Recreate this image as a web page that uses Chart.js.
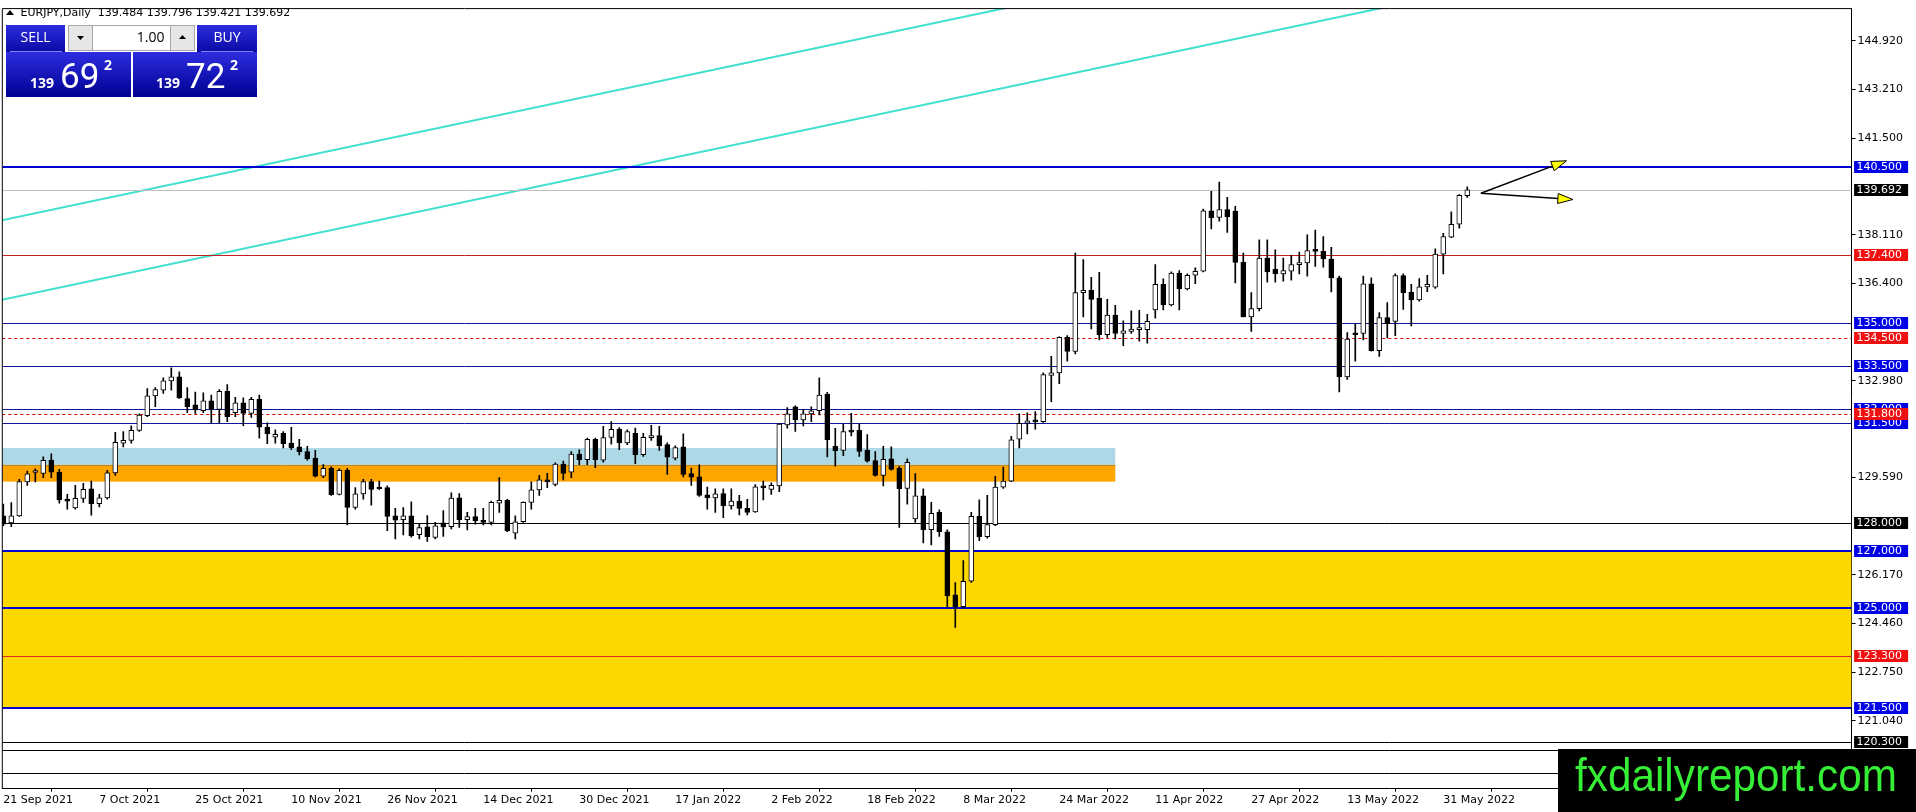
<!DOCTYPE html>
<html>
<head>
<meta charset="utf-8">
<title>EURJPY Daily</title>
<script src="https://cdn.jsdelivr.net/npm/chart.js@4.4.0/dist/chart.umd.min.js"></script>
<style>
  html, body { margin: 0; padding: 0; background: #fff; overflow: hidden; }
  canvas { display: block; }
</style>
</head>
<body>
<canvas id="priceChart" width="1916" height="812"></canvas>
<script>
// Chart data
const symbolTitle = 'EURJPY,Daily  139.484 139.796 139.421 139.692';

const opens = [
  128.24, 127.99, 128.24, 129.43, 129.76, 129.73, 130.20, 129.78, 128.82, 128.52,
  128.85, 129.19, 128.67, 128.87, 129.75, 130.79, 130.89, 131.24, 131.76, 132.45,
  132.65, 132.98, 133.12, 132.36, 132.14, 131.93, 132.28, 131.98, 132.61, 131.86,
  132.21, 131.84, 132.33, 131.35, 131.00, 131.14, 130.79, 130.66, 130.50, 130.27,
  129.63, 129.91, 128.99, 129.84, 128.53, 129.01, 129.44, 129.20, 129.23, 128.24,
  128.10, 128.24, 127.58, 127.85, 127.48, 127.99, 127.86, 128.87, 128.10, 128.21,
  128.08, 128.01, 128.68, 128.78, 127.63, 128.03, 128.71, 129.15, 129.50, 129.34,
  130.06, 129.77, 130.41, 130.21, 130.93, 130.19, 130.99, 131.28, 130.80, 131.14,
  130.39, 130.98, 131.06, 130.74, 130.26, 130.66, 129.72, 129.61, 128.98, 128.87,
  129.02, 128.59, 128.76, 128.50, 128.38, 129.26, 129.17, 129.29, 131.43, 132.07,
  131.61, 131.82, 131.93, 132.51, 130.68, 130.54, 131.24, 131.24, 130.54, 130.18,
  129.66, 130.24, 129.92, 129.20, 128.13, 128.94, 127.75, 128.36, 127.68, 125.46,
  125.05, 125.94, 128.22, 127.51, 127.93, 129.25, 129.46, 130.93, 131.49, 131.58,
  131.55, 133.17, 133.26, 134.51, 134.01, 136.08, 136.16, 135.88, 134.60, 135.29,
  134.65, 134.72, 134.78, 134.78, 135.47, 136.37, 135.65, 136.77, 136.21, 136.69,
  136.83, 138.95, 138.72, 139.00, 138.94, 137.15, 135.23, 135.52, 137.29, 136.91,
  136.74, 136.83, 137.06, 137.12, 137.56, 137.53, 137.26, 136.60, 133.12, 134.64,
  134.65, 136.39, 134.04, 135.20, 135.07, 136.68, 136.10, 135.82, 136.28, 136.27,
  137.43, 138.03, 138.48, 139.484
];
const highs = [
  128.65, 128.70, 129.52, 129.81, 129.89, 130.31, 130.42, 129.87, 128.99, 129.31,
  129.38, 129.46, 128.99, 129.84, 131.17, 131.20, 131.40, 131.82, 132.71, 132.74,
  133.09, 133.44, 133.30, 132.74, 132.59, 132.56, 132.48, 132.67, 132.85, 132.40,
  132.38, 132.40, 132.48, 131.51, 131.26, 131.20, 131.35, 130.93, 130.68, 130.54,
  130.04, 129.96, 129.89, 129.91, 129.23, 129.52, 129.52, 129.46, 129.29, 128.50,
  128.53, 128.73, 127.95, 128.25, 128.01, 128.42, 129.05, 129.02, 128.36, 128.50,
  128.50, 128.76, 129.58, 128.82, 128.24, 128.73, 129.43, 129.66, 129.73, 130.10,
  130.16, 130.50, 130.56, 130.97, 130.97, 131.38, 131.55, 131.34, 131.26, 131.32,
  131.14, 131.42, 131.38, 130.80, 130.70, 131.12, 129.92, 130.03, 129.25, 129.19,
  129.19, 129.19, 128.96, 128.82, 129.34, 129.46, 129.40, 131.49, 132.04, 132.10,
  131.98, 132.07, 133.09, 132.58, 131.31, 131.46, 131.84, 131.47, 131.09, 130.50,
  130.68, 130.66, 129.98, 130.24, 129.72, 129.19, 128.71, 128.45, 127.75, 125.89,
  126.67, 128.36, 128.80, 128.96, 129.63, 129.95, 131.03, 131.82, 131.86, 131.90,
  133.26, 133.84, 134.53, 134.57, 137.47, 137.24, 136.62, 136.79, 135.84, 135.63,
  135.09, 135.44, 135.46, 135.32, 137.06, 136.56, 136.81, 136.85, 136.74, 136.95,
  139.01, 139.64, 139.96, 139.43, 139.11, 137.47, 136.08, 137.93, 137.93, 137.58,
  137.29, 137.39, 137.50, 138.11, 138.28, 138.05, 137.67, 136.66, 134.68, 134.97,
  136.66, 136.60, 135.38, 135.73, 136.74, 136.74, 136.37, 136.57, 136.69, 137.62,
  138.16, 138.92, 139.52, 139.796
];
const lows = [
  127.89, 127.86, 128.22, 129.31, 129.43, 129.58, 129.58, 128.68, 128.47, 128.47,
  128.71, 128.26, 128.55, 128.82, 129.66, 130.66, 130.79, 131.20, 131.72, 132.07,
  132.54, 132.65, 132.36, 131.86, 131.84, 131.86, 131.49, 131.49, 131.55, 131.72,
  131.41, 131.70, 130.97, 130.77, 130.79, 130.62, 130.56, 130.38, 130.19, 129.61,
  129.58, 128.96, 128.97, 127.92, 128.47, 128.82, 128.61, 129.17, 127.72, 127.43,
  127.57, 127.49, 127.43, 127.34, 127.43, 127.52, 127.78, 127.83, 127.74, 127.95,
  127.92, 127.92, 128.36, 127.68, 127.43, 128.01, 128.47, 128.96, 129.23, 129.29,
  129.50, 129.58, 130.04, 130.04, 129.93, 130.12, 130.76, 130.56, 130.74, 130.07,
  130.33, 130.89, 130.54, 129.69, 130.20, 129.61, 129.31, 128.92, 128.47, 128.36,
  128.17, 128.47, 128.27, 128.27, 128.36, 128.80, 128.99, 129.09, 131.32, 131.20,
  131.40, 131.55, 131.78, 130.31, 129.98, 130.35, 131.05, 130.33, 130.12, 129.63,
  129.29, 129.84, 127.83, 128.65, 128.01, 127.29, 127.22, 127.52, 125.02, 124.32,
  124.99, 125.90, 127.37, 127.45, 127.89, 129.20, 129.44, 130.62, 131.12, 131.28,
  131.52, 132.25, 132.88, 133.67, 133.93, 135.23, 134.80, 134.42, 134.51, 134.45,
  134.22, 134.65, 134.37, 134.30, 135.18, 135.47, 135.61, 135.47, 136.17, 136.39,
  136.81, 138.32, 138.59, 138.19, 136.42, 135.23, 134.72, 135.44, 136.45, 136.45,
  136.48, 136.52, 136.74, 136.66, 137.00, 136.97, 136.10, 132.59, 133.03, 133.67,
  134.42, 134.02, 133.84, 134.49, 134.57, 135.49, 134.91, 135.78, 136.11, 136.23,
  136.74, 138.01, 138.34, 139.421
];
const closes = [
  127.95, 128.24, 129.44, 129.71, 129.78, 130.19, 129.77, 128.80, 128.75, 128.85,
  129.17, 128.67, 128.87, 129.75, 130.82, 130.89, 131.24, 131.78, 132.45, 132.67,
  132.98, 133.12, 132.38, 132.07, 131.96, 132.28, 131.98, 132.61, 131.72, 132.21,
  131.84, 132.33, 131.35, 131.12, 131.10, 130.77, 130.63, 130.49, 130.24, 129.63,
  129.91, 128.98, 129.84, 128.53, 129.01, 129.44, 129.17, 129.18, 128.22, 128.09,
  128.24, 127.54, 127.83, 127.51, 127.89, 127.85, 128.86, 128.10, 128.21, 128.06,
  128.01, 128.71, 128.78, 127.71, 128.03, 128.71, 129.15, 129.50, 129.43, 130.06,
  129.73, 130.41, 130.21, 130.93, 130.21, 130.99, 131.28, 130.80, 131.20, 130.39,
  131.00, 131.06, 130.70, 130.30, 130.64, 129.69, 129.60, 128.96, 128.87, 129.01,
  128.59, 128.76, 128.50, 128.36, 129.26, 129.22, 129.31, 131.46, 131.82, 131.61,
  131.82, 131.93, 132.48, 130.91, 130.53, 131.20, 131.18, 130.50, 130.16, 129.66,
  130.22, 129.87, 129.19, 130.12, 128.94, 127.74, 128.33, 127.68, 125.43, 125.05,
  125.94, 128.22, 127.51, 127.93, 129.25, 129.46, 130.91, 131.49, 131.58, 131.54,
  133.20, 133.26, 134.51, 134.01, 136.08, 136.16, 135.84, 134.60, 135.29, 134.65,
  134.74, 134.80, 134.80, 135.07, 136.37, 135.65, 136.77, 136.21, 136.69, 136.83,
  138.95, 138.71, 139.00, 138.74, 137.14, 135.23, 135.52, 137.29, 136.81, 136.74,
  136.85, 137.06, 137.12, 137.56, 137.53, 137.26, 136.60, 133.12, 134.45, 134.60,
  136.39, 134.04, 135.20, 134.99, 136.68, 136.08, 135.82, 136.28, 136.37, 137.43,
  138.05, 138.48, 139.50, 139.692
];

// bar index of each date label on the time axis
const dateTicks = [0, 12, 24, 36, 48, 60, 72, 84, 96, 108, 120, 132, 144, 156, 168, 180];
const dateLabels = [
  '21 Sep 2021', '7 Oct 2021', '25 Oct 2021', '10 Nov 2021', '26 Nov 2021', '14 Dec 2021',
  '30 Dec 2021', '17 Jan 2022', '2 Feb 2022', '18 Feb 2022', '8 Mar 2022', '24 Mar 2022',
  '11 Apr 2022', '27 Apr 2022', '13 May 2022', '31 May 2022'
];
const priceTicks = [144.92, 143.21, 141.5, 138.11, 136.4, 132.98, 129.59, 126.17, 124.46, 122.75, 121.04];

// horizontal levels drawn on the chart
const levels = [140.5, 139.692, 137.4, 135.0, 134.5, 133.5, 132.0, 131.8, 131.5, 128.0, 127.0, 125.0, 123.3, 121.5, 120.3, 120.0, 119.2];

// zones [low, high] and the bar where the small zones stop
const yellowZone = [121.5, 127.0];
const orangeZone = [129.44, 130.03];
const blueZone = [130.03, 130.62];
const zoneEndBar = 139;

// channel lines: two [bar, price] points each
const channelUpper = [[0, 138.63], [124, 146.0]];
const channelLower = [[0, 135.84], [171, 146.0]];

// yellow arrows: [bar, price] start and tip
const arrowUp = [[184.7, 139.57], [195.4, 140.71]];
const arrowSide = [[184.7, 139.57], [196.2, 139.35]];

// ---- styles ----
const BLUE_THIN = { c: '#14149a', w: 1 };
const BLUE_THICK = { c: '#0000d0', w: 2 };
const levelStyles = [
  BLUE_THICK, { c: '#c0c0c0', w: 1 }, { c: '#c42020', w: 1 }, BLUE_THIN,
  { c: '#cc0000', w: 1, d: [3, 3] }, BLUE_THIN, BLUE_THIN, { c: '#cc0000', w: 1, d: [3, 3] },
  BLUE_THIN, { c: '#000', w: 1 }, BLUE_THICK, BLUE_THICK, { c: '#e03020', w: 1 },
  BLUE_THICK, { c: '#000', w: 1 }, { c: '#000', w: 1 }, { c: '#000', w: 1 }
];
// price tag colour per level (null = no tag)
const tagColors = [
  '#0000e6', '#000', '#f01010', '#0000e6', '#f01010', '#0000e6', '#0000e6', '#f01010',
  '#0000e6', '#000', '#0000e6', '#0000e6', '#f01010', '#0000e6', '#000', null, null
];
const AXIS_FONT = '11px "DejaVu Sans"';

function drawPanel(ctx) {
  ctx.save();
  // title line
  ctx.fillStyle = '#000';
  ctx.beginPath(); ctx.moveTo(6, 15); ctx.lineTo(14, 15); ctx.lineTo(10, 10); ctx.closePath(); ctx.fill();
  ctx.font = AXIS_FONT;
  ctx.textBaseline = 'middle';
  ctx.textAlign = 'left';
  ctx.fillText(symbolTitle, 20.5, 13);

  const grad = (y0, y1) => {
    const g = ctx.createLinearGradient(0, y0, 0, y1);
    g.addColorStop(0, '#2d2de0');
    g.addColorStop(1, '#000092');
    return g;
  };
  // price boxes
  ctx.fillStyle = grad(52, 97);
  ctx.fillRect(6, 52, 125, 45);
  ctx.fillRect(133, 52, 124, 45);
  // sell / buy buttons
  ctx.fillStyle = grad(25, 60);
  ctx.fillRect(6, 25, 59, 27);
  ctx.fillRect(197, 25, 60, 27);
  ctx.strokeStyle = 'rgba(140,140,255,0.9)';
  ctx.lineWidth = 1;
  ctx.beginPath();
  ctx.moveTo(10, 51.5); ctx.lineTo(62, 51.5);
  ctx.moveTo(201, 51.5); ctx.lineTo(253, 51.5);
  ctx.stroke();

  // lot size control
  ctx.fillStyle = '#e6e6e6';
  ctx.fillRect(68, 25, 127, 26);
  ctx.fillStyle = '#fff';
  ctx.fillRect(92, 25, 79, 26);
  ctx.strokeStyle = '#a8a8a8';
  ctx.strokeRect(68.5, 25.5, 126, 25);
  ctx.beginPath();
  ctx.moveTo(92.5, 25.5); ctx.lineTo(92.5, 50.5);
  ctx.moveTo(170.5, 25.5); ctx.lineTo(170.5, 50.5);
  ctx.stroke();
  ctx.fillStyle = '#000';
  ctx.beginPath(); ctx.moveTo(77, 36); ctx.lineTo(84, 36); ctx.lineTo(80.5, 40); ctx.closePath(); ctx.fill();
  ctx.beginPath(); ctx.moveTo(179, 39); ctx.lineTo(186, 39); ctx.lineTo(182.5, 35); ctx.closePath(); ctx.fill();
  ctx.font = '14px "Open Sans"';
  ctx.textAlign = 'right';
  ctx.fillText('1.00', 164.5, 38);

  ctx.fillStyle = '#fff';
  ctx.textAlign = 'center';
  ctx.fillText('SELL', 35.5, 38.5);
  ctx.fillText('BUY', 227, 38.5);

  // bid / ask quotes
  ctx.textAlign = 'left';
  ctx.textBaseline = 'alphabetic';
  const quote = (x, big) => {
    ctx.font = 'bold 14px "Open Sans"';
    ctx.fillText('139', x, 87.5);
    ctx.font = '35px Roboto';
    ctx.fillText(big, x + 30, 87.5);
    ctx.font = 'bold 14px "Open Sans"';
    ctx.fillText('2', x + 74, 70);
  };
  quote(30, '69');
  quote(156, '72');
  ctx.restore();
}

function drawArrow(ctx, x0, y0, x1, y1) {
  const ang = Math.atan2(y1 - y0, x1 - x0);
  const len = 15, half = 5;
  const bx = x1 - len * Math.cos(ang), by = y1 - len * Math.sin(ang);
  ctx.strokeStyle = '#000';
  ctx.lineWidth = 1.5;
  ctx.beginPath(); ctx.moveTo(x0, y0); ctx.lineTo(bx, by); ctx.stroke();
  ctx.fillStyle = '#ffff00';
  ctx.lineWidth = 1;
  ctx.beginPath();
  ctx.moveTo(x1, y1);
  ctx.lineTo(bx + half * Math.sin(ang), by - half * Math.cos(ang));
  ctx.lineTo(bx - half * Math.sin(ang), by + half * Math.cos(ang));
  ctx.closePath();
  ctx.fill(); ctx.stroke();
}

const mt4Overlay = {
  id: 'mt4Overlay',
  beforeDraw(chart) {
    const { ctx } = chart;
    ctx.save();
    ctx.fillStyle = '#fff';
    ctx.fillRect(0, 0, chart.width, chart.height);
    ctx.restore();
  },
  beforeDatasetsDraw(chart) {
    const { ctx, chartArea: a, scales: { x, y } } = chart;
    ctx.save();
    ctx.beginPath();
    ctx.rect(a.left, a.top, a.right - a.left, a.bottom - a.top);
    ctx.clip();

    const band = (zone, x1, color) => {
      const top = y.getPixelForValue(zone[1]);
      const bot = y.getPixelForValue(zone[0]);
      ctx.fillStyle = color;
      ctx.fillRect(a.left, top, x1 - a.left, bot - top);
    };
    band(yellowZone, a.right, '#ffd700');
    const zx = x.getPixelForValue(zoneEndBar);
    band(blueZone, zx, '#add8e6');
    band(orangeZone, zx, '#ffa500');
    ctx.strokeStyle = '#b8862e';
    ctx.lineWidth = 1;
    const oy = Math.round(y.getPixelForValue(orangeZone[1])) + 0.5;
    ctx.beginPath(); ctx.moveTo(a.left, oy); ctx.lineTo(zx, oy); ctx.stroke();

    // channel lines (rays)
    ctx.strokeStyle = '#40e0d0';
    ctx.lineWidth = 2;
    [channelUpper, channelLower].forEach(pts => {
      const x0 = x.getPixelForValue(pts[0][0]), y0 = y.getPixelForValue(pts[0][1]);
      const x1 = x.getPixelForValue(pts[1][0]), y1 = y.getPixelForValue(pts[1][1]);
      const dx = x1 - x0, dy = y1 - y0;
      ctx.beginPath();
      ctx.moveTo(x0 - dx * 0.1, y0 - dy * 0.1);
      ctx.lineTo(x0 + dx * 3, y0 + dy * 3);
      ctx.stroke();
    });

    // horizontal levels
    levels.forEach((p, i) => {
      const st = levelStyles[i];
      const py = Math.round(y.getPixelForValue(p)) + (st.w % 2 ? 0.5 : 0);
      ctx.strokeStyle = st.c;
      ctx.lineWidth = st.w;
      ctx.setLineDash(st.d || []);
      ctx.beginPath(); ctx.moveTo(a.left, py); ctx.lineTo(a.right, py); ctx.stroke();
    });
    ctx.restore();
  },
  afterDatasetsDraw(chart) {
    const { ctx, scales: { x, y } } = chart;
    ctx.save();
    [arrowUp, arrowSide].forEach(pts => {
      drawArrow(ctx, x.getPixelForValue(pts[0][0]), y.getPixelForValue(pts[0][1]),
        x.getPixelForValue(pts[1][0]), y.getPixelForValue(pts[1][1]));
    });
    ctx.restore();
  },
  afterDraw(chart) {
    const { ctx, chartArea: a, scales: { y } } = chart;
    ctx.save();
    // frame top / left
    ctx.strokeStyle = '#000';
    ctx.lineWidth = 1;
    ctx.beginPath();
    ctx.moveTo(a.left, a.top); ctx.lineTo(a.right, a.top);
    ctx.moveTo(a.left, a.top); ctx.lineTo(a.left, a.bottom);
    ctx.stroke();

    // level tags on the price axis, red ones on top
    ctx.font = AXIS_FONT;
    ctx.textBaseline = 'middle';
    ctx.textAlign = 'left';
    const isRed = i => tagColors[i] === '#f01010';
    const order = levels.map((p, i) => i).filter(i => tagColors[i]).sort((i, j) => isRed(i) - isRed(j));
    order.forEach(i => {
      const py = Math.round(y.getPixelForValue(levels[i]));
      ctx.fillStyle = tagColors[i];
      ctx.fillRect(a.right + 2.5, py - 6, 54, 12);
      ctx.fillStyle = '#fff';
      ctx.fillText(levels[i].toFixed(3), a.right + 5, py + 0.5);
    });

    drawPanel(ctx);

    // watermark box
    ctx.fillStyle = '#000';
    ctx.fillRect(1558, 749, 358, 63);
    ctx.fillStyle = '#35ee35';
    ctx.font = '46px "Liberation Sans Narrow", "Liberation Sans", sans-serif';
    ctx.textBaseline = 'alphabetic';
    const txt = 'fxdailyreport.com';
    const w = ctx.measureText(txt).width;
    ctx.translate(1575, 791);
    ctx.scale(322 / w, 1);
    ctx.fillText(txt, 0, 0);
    ctx.restore();
  }
};

const bodyData = opens.map((o, i) => ({ x: i, y: [o, closes[i]] }));
const wickData = lows.map((l, i) => ({ x: i, y: [l, highs[i]] }));
const bodyColors = opens.map((o, i) => (closes[i] >= o ? '#ffffff' : '#000000'));

const ctx = document.getElementById('priceChart').getContext('2d');
new Chart(ctx, {
  type: 'bar',
  data: {
    datasets: [
      {
        label: 'body', data: bodyData, backgroundColor: bodyColors, borderColor: '#000',
        borderWidth: 1, borderSkipped: false, barThickness: 5, minBarLength: 2,
        grouped: false, order: 1
      },
      {
        label: 'wick', data: wickData, backgroundColor: '#000', borderWidth: 0,
        barThickness: 1, grouped: false, order: 2
      }
    ]
  },
  options: {
    responsive: false,
    devicePixelRatio: 1,
    animation: false,
    layout: { padding: { left: 2.3, top: 1.7, right: 0, bottom: 0 } },
    plugins: { legend: { display: false }, tooltip: { enabled: false } },
    scales: {
      x: {
        type: 'linear', min: -0.125, max: 231.04, offset: false,
        afterFit(s) { s.height = 23.3; },
        afterBuildTicks(s) { s.ticks = dateTicks.map(v => ({ value: v })); },
        grid: { drawOnChartArea: false, color: '#000', tickLength: 3 },
        border: { color: '#000' },
        ticks: {
          align: 'start', maxRotation: 0, autoSkip: false, padding: 2, color: '#000',
          font: { family: 'DejaVu Sans', size: 11 },
          callback: (v, i) => dateLabels[i]
        }
      },
      y: {
        position: 'right', min: 118.654, max: 146.056,
        afterFit(s) { s.width = 64.4; },
        afterBuildTicks(s) { s.ticks = priceTicks.map(v => ({ value: v })); },
        grid: { drawOnChartArea: false, color: '#000', tickLength: 4 },
        border: { color: '#000' },
        ticks: {
          autoSkip: false, padding: 2, color: '#000',
          font: { family: 'DejaVu Sans', size: 11 },
          callback: v => v.toFixed(3)
        }
      }
    }
  },
  plugins: [mt4Overlay]
});
</script>
</body>
</html>
